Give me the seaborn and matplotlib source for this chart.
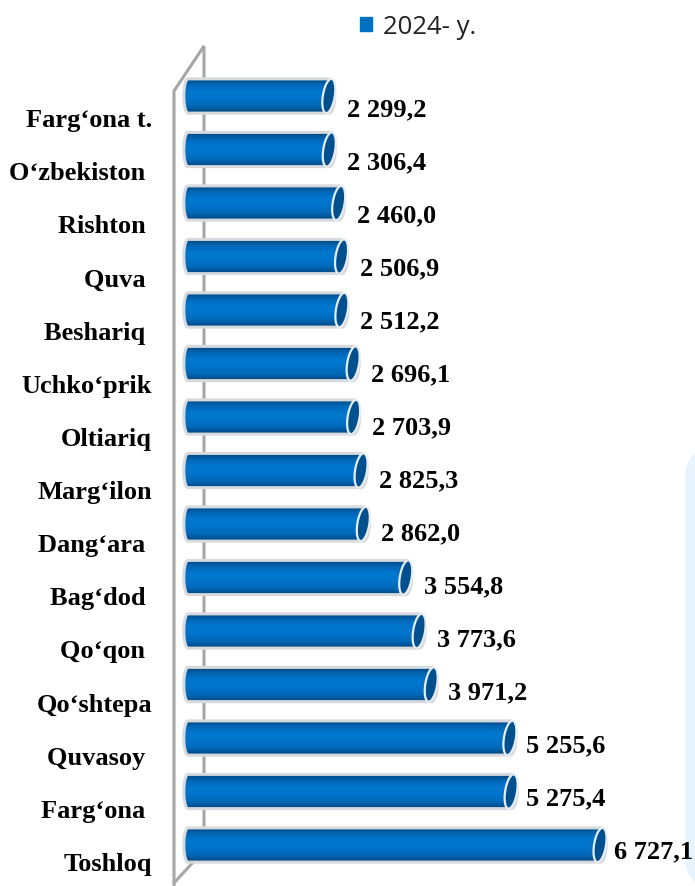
import matplotlib
matplotlib.use("Agg")
import matplotlib.pyplot as plt
import matplotlib.patches as mpatches
from matplotlib.path import Path
from matplotlib.colors import LinearSegmentedColormap
import numpy as np
import pandas as pd
import seaborn as sns

districts = ["Farg‘ona t.", "O‘zbekiston ", "Rishton ", "Quva ", "Beshariq ", "Uchko‘prik", "Oltiariq",
             "Marg‘ilon", "Dang‘ara ", "Bag‘dod ", "Qo‘qon ", "Qo‘shtepa", "Quvasoy ", "Farg‘ona ", "Toshloq"]
values = [2299.2, 2306.4, 2460.0, 2506.9, 2512.2, 2696.1, 2703.9, 2825.3,
          2862.0, 3554.8, 3773.6, 3971.2, 5255.6, 5275.4, 6727.1]
series_name = "2024- y."

W, H = 695, 887
X0, X_SCALE = 188, 0.06125      # px of zero, px per unit
Y0, Y_STEP = 97, 53.5           # px of first bar, px per bar
PT = 0.72                       # px to points at dpi 100


def fmt(v):
    s = f"{v:,.1f}"
    return s.replace(",", " ").replace(".", ",")


def tube_path(x0, x1, yc, hh, rx):
    t = np.linspace(-np.pi / 2, np.pi / 2, 40)
    right_x = x1 + rx * np.cos(t)
    right_y = yc + hh * np.sin(t)
    left_x = x0 - 0.7 * rx * np.cos(t[::-1])
    left_y = yc + hh * np.sin(t[::-1])
    return Path(np.vstack([np.column_stack([right_x, right_y]), np.column_stack([left_x, left_y]),
                           [[right_x[0], right_y[0]]]]), closed=True)


sns.set_theme(style="white")
df = pd.DataFrame({"district": districts, "value": values, "year": series_name})

fig = plt.figure(figsize=(W / 100, H / 100), dpi=100)
ax = fig.add_axes([0, 0, 1, 1])
sns.barplot(data=df, y="district", x="value", hue="year", palette=["#0070c0"], width=0.64,
            orient="h", ax=ax, legend=False, saturation=1)

xlim = (-X0 / X_SCALE, (W - X0) / X_SCALE)
ylim = ((H - Y0) / Y_STEP, -Y0 / Y_STEP)
ax.axis("off")

# pale panel on the right edge
fig.patches.append(mpatches.FancyBboxPatch((685 / W, 0), 0.2, (H - 450) / H, boxstyle="round,pad=0,rounding_size=0.035",
                                           transform=fig.transFigure, fc="#e8f4fd", ec="none", zorder=-5))

# walls of the 3D frame
wall = dict(color="#a6a6a6", lw=2.2, transform=ax.transAxes, zorder=1, solid_joinstyle="miter")
px = lambda x, y: (x / W, 1 - y / H)
for pts in [[(204, 862), (204, 47), (174, 92), (174, 887)], [(174, 884), (196, 860)]]:
    xy = np.array([px(*p) for p in pts])
    ax.plot(xy[:, 0], xy[:, 1], **wall)

grad = LinearSegmentedColormap.from_list("tube", ["#00457e", "#0068b8", "#0078d0", "#0074ca", "#0068b8", "#00457e"])
g = np.linspace(0, 1, 64).reshape(-1, 1)
rx = 6.0 / X_SCALE
skew = 2.5 / X_SCALE
t_cap = np.linspace(0, 2 * np.pi, 80)

for i, bar in enumerate(ax.containers[0]):
    x1 = bar.get_width()
    yc = bar.get_y() + bar.get_height() / 2
    hh = bar.get_height() / 2
    bar.set_visible(False)
    outline = tube_path(0, x1, yc, hh, rx)
    im = ax.imshow(g, extent=(-rx * 1.2, x1 + rx * 1.2, yc + hh, yc - hh), cmap=grad, aspect="auto", zorder=2)
    clip = mpatches.PathPatch(outline, fc="none", ec="#d6dade", lw=2.2, zorder=3)
    ax.add_patch(clip)
    im.set_clip_path(clip)
    cap_xy = np.column_stack([x1 + rx * np.cos(t_cap) - skew * np.sin(t_cap), yc + hh * np.sin(t_cap)])
    ax.add_patch(mpatches.Polygon(cap_xy, closed=True, fc="#00508f", ec="#e6edf2", lw=1.6, zorder=4))
    ax.annotate(fmt(values[i]), (x1, yc), xytext=((18 - max(0, i - 10)) * PT, -(12.5 - 0.45 * i) * PT),
                textcoords="offset points", ha="left", va="center", family="Liberation Serif",
                weight="bold", fontsize=19, color="black")
    ax.annotate(districts[i], (0, yc), xytext=(-36 * PT, (-23.5 + 5 * i / 14) * PT), textcoords="offset points",
                ha="right", va="center", family="Liberation Serif", weight="bold", fontsize=19, color="black")

ax.set_xlim(xlim)
ax.set_ylim(ylim)

handle = mpatches.Patch(color="#0070c0", label=series_name)
ax.legend(handles=[handle], loc="center left", bbox_to_anchor=(360 / W, 1 - 27.5 / H), frameon=False,
          borderaxespad=0, borderpad=0, handlelength=0.48, handleheight=0.48, handletextpad=0.4,
          labelcolor="#222222", prop={"family": "Open Sans", "size": 18.5})

fig.savefig("out.png", dpi=100)
